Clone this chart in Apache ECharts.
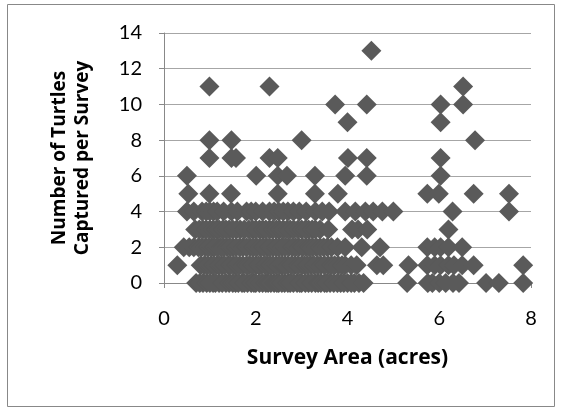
<!DOCTYPE html>
<html>
<head>
<meta charset="utf-8">
<script src="https://cdn.jsdelivr.net/npm/echarts@6/dist/echarts.min.js"></script>
<style>
  html, body { margin: 0; padding: 0; background: #fff; }
  #chart { width: 562px; height: 409px; }
</style>
</head>
<body>
<div id="chart"></div>
<script>
// survey areas (acres), grouped by the turtle count
var areasCount0 = [0.7, 0.78, 0.85, 0.93, 1.0, 1.07, 1.12, 1.2, 1.27, 1.35, 1.42, 1.5, 1.56, 1.62, 1.7, 1.75, 1.82, 1.9, 1.96, 2.0, 2.08, 2.15, 2.22, 2.27, 2.33, 2.4, 2.46, 2.5, 2.57, 2.63, 2.7, 2.75, 2.82, 2.9, 2.96, 3.0, 3.08, 3.15, 3.22, 3.3, 3.36, 3.42, 3.5, 3.55, 3.62, 3.7, 3.78, 3.85, 3.92, 4.0, 4.08, 4.15, 4.25, 4.35, 5.3, 5.75, 5.85, 6.0, 6.14, 6.3, 6.43, 7.02, 7.3, 7.83];
var areasCount1 = [0.29, 0.8, 0.88, 0.95, 1.02, 1.08, 1.15, 1.2, 1.26, 1.32, 1.4, 1.45, 1.52, 1.58, 1.65, 1.72, 1.8, 1.86, 1.93, 2.0, 2.06, 2.12, 2.2, 2.26, 2.32, 2.38, 2.45, 2.52, 2.58, 2.64, 2.7, 2.78, 2.85, 2.92, 3.0, 3.06, 3.13, 3.2, 3.27, 3.35, 3.42, 3.5, 3.58, 3.65, 3.72, 3.8, 3.88, 3.95, 4.08, 4.2, 4.64, 4.78, 5.33, 5.74, 5.9, 6.03, 6.2, 6.32, 6.5, 6.75, 7.83];
var areasCount2 = [0.43, 0.55, 0.65, 0.75, 0.82, 0.9, 0.97, 1.04, 1.1, 1.17, 1.24, 1.3, 1.37, 1.44, 1.5, 1.57, 1.65, 1.72, 1.8, 1.88, 1.95, 2.02, 2.1, 2.17, 2.24, 2.3, 2.37, 2.44, 2.5, 2.57, 2.64, 2.72, 2.8, 2.87, 2.94, 3.02, 3.1, 3.17, 3.24, 3.32, 3.4, 3.48, 3.56, 3.65, 3.78, 3.95, 4.31, 4.71, 5.74, 5.9, 6.03, 6.2, 6.5];
var areasCount3 = [0.68, 0.77, 0.85, 0.92, 1.0, 1.07, 1.14, 1.2, 1.28, 1.35, 1.42, 1.5, 1.58, 1.66, 1.75, 1.85, 1.93, 2.0, 2.08, 2.15, 2.22, 2.3, 2.37, 2.45, 2.52, 2.6, 2.68, 2.75, 2.83, 2.92, 3.0, 3.08, 3.15, 3.23, 3.3, 3.4, 3.58, 4.1, 4.23, 4.43, 6.2];
var areasCount4 = [0.5, 0.65, 0.83, 0.92, 1.0, 1.08, 1.16, 1.3, 1.47, 1.6, 1.8, 1.9, 2.0, 2.15, 2.3, 2.4, 2.5, 2.6, 2.7, 2.82, 2.95, 3.1, 3.3, 3.45, 3.6, 3.95, 4.17, 4.39, 4.56, 4.76, 5.0, 6.29, 7.52];
var areasCount5 = [0.53, 0.99, 1.46, 2.48, 3.29, 3.79, 5.74, 5.99, 6.75, 7.52];
var areasCount6 = [0.5, 2.01, 2.48, 2.68, 3.29, 3.95, 4.42, 6.03];
var areasCount7 = [0.99, 1.47, 1.57, 2.3, 2.48, 4.01, 4.42, 6.03];
var areasCount8 = [0.99, 1.47, 3.0, 6.78];
var areasCount9 = [4.0, 6.03];
var areasCount10 = [3.73, 4.42, 6.03, 6.52];
var areasCount11 = [0.99, 2.3, 6.52];
var areasCount13 = [4.52];

var groups = [
  [0, areasCount0], [1, areasCount1], [2, areasCount2], [3, areasCount3],
  [4, areasCount4], [5, areasCount5], [6, areasCount6], [7, areasCount7],
  [8, areasCount8], [9, areasCount9], [10, areasCount10], [11, areasCount11],
  [13, areasCount13]
];

var points = [];
groups.forEach(function (g) {
  g[1].forEach(function (a) { points.push([a, g[0]]); });
});

var tickFont = 'Lato, "Open Sans", sans-serif';
var nameFont = '"Open Sans", Lato, sans-serif';
var chart = echarts.init(document.getElementById('chart'));
chart.setOption({
  animation: false,
  grid: { left: 164, right: 31, top: 33, bottom: 126 },
  graphic: [{
    type: 'rect',
    shape: { x: 7.5, y: 4.5, width: 547, height: 402 },
    style: { fill: 'none', stroke: '#888888', lineWidth: 1 },
    silent: true
  }],
  xAxis: {
    type: 'value',
    min: 0, max: 8, interval: 2,
    name: 'Survey Area (acres)',
    nameLocation: 'middle',
    nameGap: 65,
    nameTextStyle: { fontFamily: nameFont, fontSize: 21, fontWeight: 'bold', color: '#000' },
    axisLine: { show: true, onZero: false, lineStyle: { color: '#888888' } },
    axisTick: { show: true, length: 5, lineStyle: { color: '#888888' } },
    axisLabel: { fontFamily: tickFont, fontSize: 20, color: '#000', margin: 26 },
    splitLine: { show: false }
  },
  yAxis: {
    type: 'value',
    min: 0, max: 14, interval: 2,
    name: 'Number of Turtles\nCaptured per Survey',
    nameLocation: 'middle',
    nameGap: 70,
    nameTextStyle: { fontFamily: nameFont, fontSize: 19, fontWeight: 'bold', color: '#000', lineHeight: 23 },
    axisLine: { show: true, lineStyle: { color: '#888888' } },
    axisTick: { show: true, length: 5, lineStyle: { color: '#888888' } },
    axisLabel: { fontFamily: tickFont, fontSize: 20, color: '#000', margin: 22 },
    splitLine: { show: true, lineStyle: { color: '#a6a6a6' } }
  },
  series: [{
    type: 'scatter',
    symbol: 'diamond',
    symbolSize: 20,
    itemStyle: { color: '#5a5a5a', opacity: 1 },
    data: points
  }]
});
</script>
</body>
</html>
